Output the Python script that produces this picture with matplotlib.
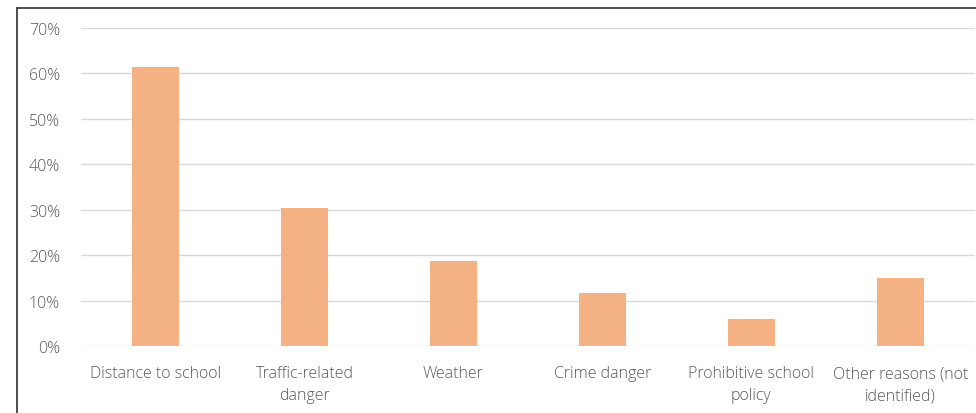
import numpy as np
import matplotlib
matplotlib.use("Agg")
import matplotlib.pyplot as plt
from matplotlib.lines import Line2D
from matplotlib.ticker import FuncFormatter

# reasons for not walking/biking to school (share of responses)
categories = ["Distance to school", "Traffic-related\ndanger", "Weather",
              "Crime danger", "Prohibitive school\npolicy", "Other reasons (not\nidentified)"]
shares = [61.4, 30.4, 18.7, 11.7, 5.9, 15.0]
yticks = [0, 10, 20, 30, 40, 50, 60, 70]

plt.rcParams['font.family'] = ['Open Sans', 'DejaVu Sans']
plt.rcParams['font.weight'] = 'light'

fig = plt.figure(figsize=(9.76, 4.14), dpi=100)
ax = fig.add_axes([81/976, 67/414, 894/976, 318/414])

x = np.arange(len(categories))
ax.bar(x, shares, width=0.315, color='#F4B183', zorder=3)

ax.set_xlim(-0.5, len(categories) - 0.5)
ax.set_ylim(0, 70)
ax.set_yticks(yticks)
ax.yaxis.set_major_formatter(FuncFormatter(lambda v, p: "%d%%" % v))
ax.set_xticks(x)
ax.set_xticklabels(categories)

ax.grid(axis='y', color='#D9D9D9', linewidth=1.0, zorder=0)
for s in ax.spines.values():
    s.set_visible(False)
ax.tick_params(axis='both', length=0, labelsize=11.5, colors='#595959')
ax.tick_params(axis='y', pad=15)
ax.tick_params(axis='x', pad=14)
for lbl in ax.get_xticklabels():
    lbl.set_linespacing(1.5)

# outer chart frame (only top and left edges visible in the crop)
fig.add_artist(Line2D([16.5/976, 16.5/976], [0, 1 - 9/414], color='#404040', linewidth=1.3))
fig.add_artist(Line2D([16.5/976, 1], [1 - 9/414, 1 - 9/414], color='#404040', linewidth=1.3))

fig.savefig("out.png", dpi=100)
